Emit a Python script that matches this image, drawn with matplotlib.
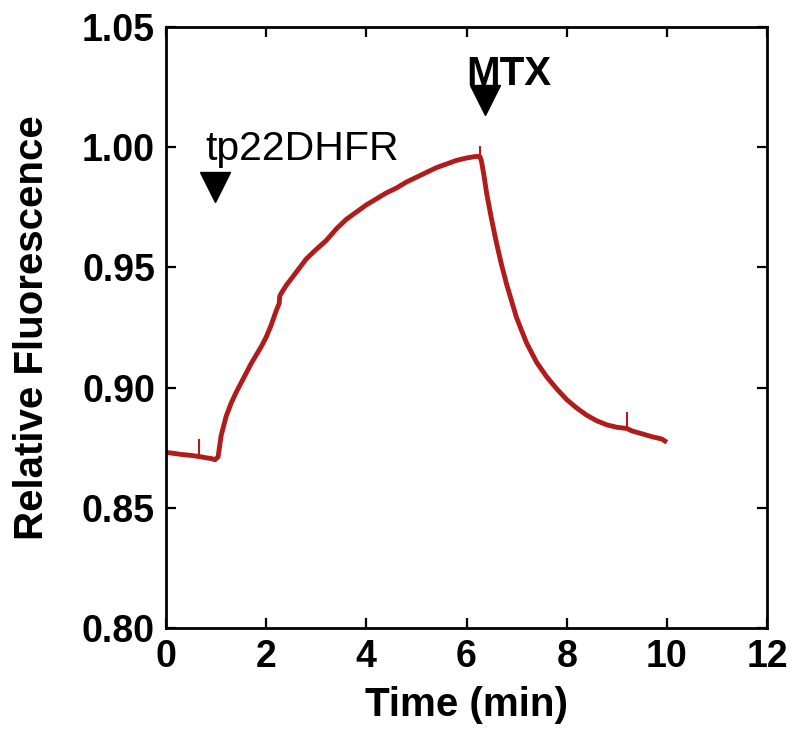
import matplotlib.pyplot as plt

# Trace (time in min, relative fluorescence)
time_min = [0.00, 0.10, 0.20, 0.30, 0.40, 0.50, 0.60, 0.70, 0.80, 0.90,
            0.98, 1.04, 1.10, 1.20, 1.30, 1.40, 1.50, 1.60, 1.70, 1.80,
            1.90, 2.00, 2.10, 2.20, 2.26, 2.27, 2.30, 2.40, 2.60, 2.80,
            3.00, 3.20, 3.40, 3.60, 3.80, 4.00, 4.20, 4.40, 4.60, 4.80,
            5.00, 5.20, 5.40, 5.60, 5.80, 6.00, 6.20, 6.27, 6.30, 6.35,
            6.40, 6.50, 6.60, 6.70, 6.80, 6.90, 7.00, 7.20, 7.40, 7.60,
            7.80, 8.00, 8.20, 8.40, 8.60, 8.80, 9.00, 9.20, 9.30, 9.50,
            9.70, 9.90, 9.96]
fluor = [0.8730, 0.8728, 0.8725, 0.8722, 0.8720, 0.8718, 0.8715, 0.8712, 0.8708, 0.8705,
         0.8700, 0.8712, 0.8800, 0.8880, 0.8935, 0.8980, 0.9020, 0.9060, 0.9100, 0.9135,
         0.9170, 0.9210, 0.9260, 0.9320, 0.9350, 0.9380, 0.9392, 0.9425, 0.9480, 0.9535,
         0.9575, 0.9612, 0.9660, 0.9700, 0.9730, 0.9760, 0.9785, 0.9810, 0.9830, 0.9855,
         0.9875, 0.9895, 0.9915, 0.9930, 0.9945, 0.9955, 0.9962, 0.9960, 0.9940, 0.9880,
         0.9810, 0.9700, 0.9600, 0.9510, 0.9430, 0.9360, 0.9290, 0.9185, 0.9105, 0.9045,
         0.8995, 0.8950, 0.8915, 0.8885, 0.8862, 0.8845, 0.8835, 0.8830, 0.8820, 0.8808,
         0.8796, 0.8786, 0.8778]

# single-sample noise spikes: time, top value
spike_t = [0.66, 6.27, 9.21]
spike_top = [0.8785, 1.0005, 0.8900]
spike_base = [0.8718, 0.9962, 0.8828]

# additions: label, text position, arrow position
events = ["tp22DHFR", "MTX"]
event_text_xy = [(0.78, 0.9947), (6.85, 1.0259)]
event_arrow_xy = [(0.97, 0.9834), (6.36, 1.0196)]

x_ticks = [0, 2, 4, 6, 8, 10, 12]
y_ticks = [0.80, 0.85, 0.90, 0.95, 1.00, 1.05]

plt.rcParams['font.family'] = ['Liberation Sans', 'DejaVu Sans']
plt.rcParams['font.weight'] = 'bold'

fig = plt.figure(figsize=(7.97, 7.39), dpi=100)
ax = fig.add_axes([0.2083, 0.1502, 0.7541, 0.8133])

red = '#b01c1c'
ax.plot(time_min, fluor, color=red, lw=3.5, solid_joinstyle='round')
ax.vlines(spike_t, spike_base, spike_top, color=red, lw=1.5)

# event markers
ax.text(*event_text_xy[0], events[0], fontsize=29.5, fontweight='normal', ha='left', va='baseline')
ax.text(*event_text_xy[1], events[1], fontsize=29, fontweight='bold', ha='center', va='baseline')
for ex, ey in event_arrow_xy:
    ax.plot(ex, ey, marker='v', color='black', markersize=22, clip_on=False)

ax.set_xlim(0, 12)
ax.set_ylim(0.80, 1.05)
ax.set_xticks(x_ticks)
ax.set_yticks(y_ticks)
ax.set_yticklabels(['%.2f' % v for v in y_ticks])
ax.tick_params(direction='in', length=7, width=1.6, labelsize=27, pad=8,
               top=True, right=True)
for s in ax.spines.values():
    s.set_linewidth(2)

ax.set_xlabel('Time (min)', fontsize=29, fontweight='bold', labelpad=8)
ax.set_ylabel('Relative Fluorescence', fontsize=29, fontweight='bold', labelpad=22)

fig.savefig('out.png', dpi=100)
